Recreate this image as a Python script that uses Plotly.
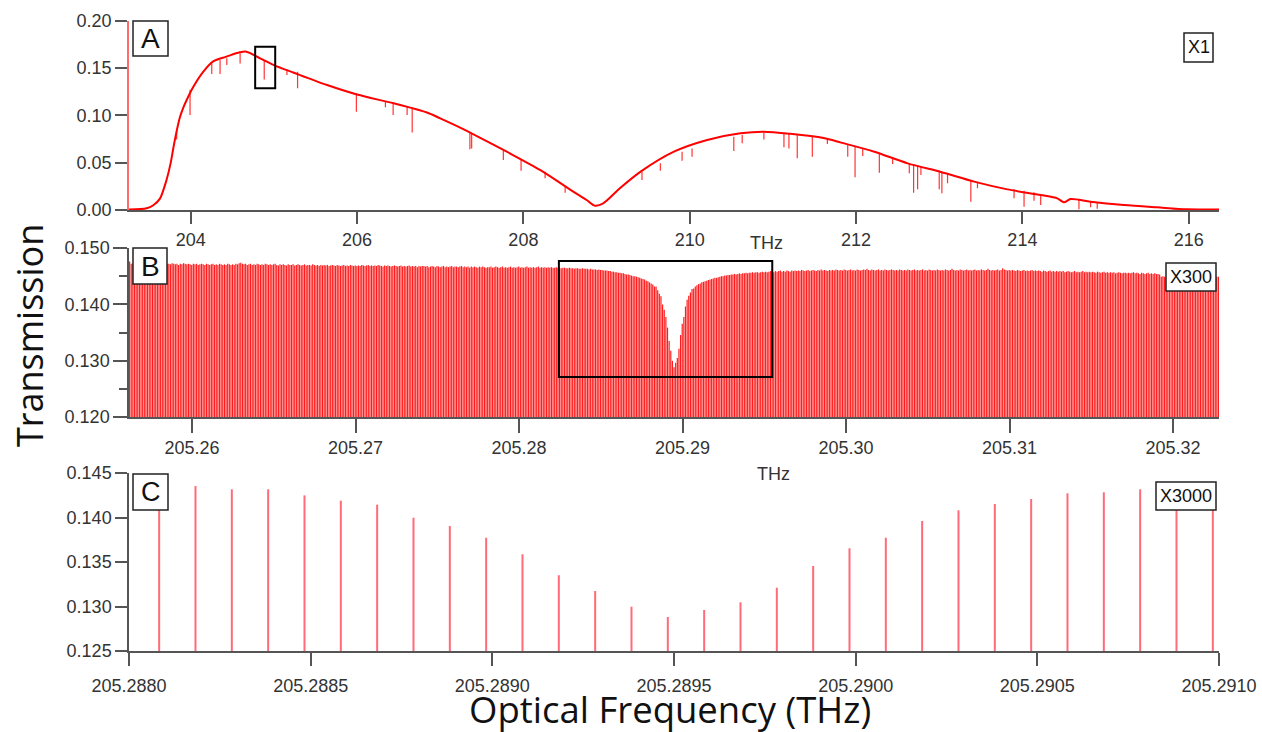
import plotly.graph_objects as go

# ---------------- Panel A: broadband transmission (THz, transmission) ----------------
A_env_f = [203.258, 203.47, 203.55, 203.63, 203.71, 203.76, 203.79, 203.83, 203.87, 203.91, 203.95,
           204.03, 204.15, 204.27, 204.43, 204.59, 204.67, 204.84, 205.00, 205.24, 205.64, 206.00,
           206.44, 206.84, 207.00, 207.24, 207.40, 207.80, 208.20, 208.60, 208.76, 208.86, 208.96,
           209.16, 209.41, 209.81, 210.21, 210.61, 210.89, 211.21, 211.61, 211.82, 212.22,
           212.62, 213.02, 213.42, 213.82, 214.22, 214.42, 214.50, 214.58, 214.82, 215.22,
           215.62, 215.98, 216.364]
A_env_v = [0.0005, 0.0018, 0.005, 0.012, 0.032, 0.050, 0.065, 0.083, 0.098, 0.108, 0.116,
           0.130, 0.146, 0.157, 0.162, 0.1666, 0.1673, 0.160, 0.153, 0.145, 0.132, 0.122,
           0.1127, 0.1030, 0.0968, 0.087, 0.080, 0.0616, 0.0423, 0.0194, 0.0106, 0.0046, 0.007,
           0.0229, 0.0405, 0.0616, 0.074, 0.081, 0.0827, 0.0805, 0.0760, 0.0712, 0.0616,
           0.0493, 0.0402, 0.030, 0.0218, 0.0158, 0.0123, 0.0081, 0.0116, 0.0088, 0.0053,
           0.0028, 0.0007, 0.0004]

A_line_f = [203.831, 203.992, 204.253, 204.353, 204.434, 204.594, 204.884, 205.157, 205.285, 205.992,
            206.341, 206.434, 206.602, 206.663, 207.357, 207.378, 207.759, 207.972, 208.261, 208.502,
            209.426, 209.647, 209.908, 210.028, 210.530, 210.631, 210.892, 211.133, 211.193, 211.293,
            211.474, 211.655, 211.900, 211.988, 212.080, 212.280, 212.440, 212.640, 212.692, 212.740,
            212.780, 213.000, 213.032, 213.100, 213.380, 213.460, 213.900, 214.020, 214.140, 214.220,
            214.680, 214.820, 214.900]
A_line_top = [0.0840, 0.1270, 0.1549, 0.1585, 0.1602, 0.1655, 0.1577, 0.1486, 0.1461, 0.1232,
              0.1144, 0.1134, 0.1099, 0.1085, 0.0817, 0.0810, 0.0627, 0.0535, 0.0405, 0.0246,
              0.0405, 0.0493, 0.0616, 0.0651, 0.0775, 0.0792, 0.0820, 0.0817, 0.0810, 0.0799,
              0.0775, 0.0757, 0.0697, 0.0669, 0.0644, 0.0599, 0.0556, 0.0493, 0.0486, 0.0475,
              0.0465, 0.0415, 0.0405, 0.0387, 0.0317, 0.0299, 0.0222, 0.0204, 0.0187, 0.0165,
              0.0106, 0.0092, 0.0085]
A_line_bot = [0.0745, 0.1004, 0.1437, 0.1437, 0.1532, 0.1549, 0.1380, 0.1426, 0.1285, 0.1039,
              0.1085, 0.1004, 0.1004, 0.0820, 0.0641, 0.0651, 0.0528, 0.0415, 0.0335, 0.0183,
              0.0317, 0.0415, 0.0521, 0.0563, 0.0623, 0.0704, 0.0746, 0.0662, 0.0651, 0.0546,
              0.0563, 0.0697, 0.0563, 0.0345, 0.0570, 0.0394, 0.0486, 0.0387, 0.0183, 0.0218,
              0.0370, 0.0218, 0.0176, 0.0282, 0.0088, 0.0229, 0.0123, 0.0035, 0.0099, 0.0053,
              0.0007, 0.0028, 0.0014]

# ---------------- Panel C: comb lines around the resonance ----------------
comb_step = 0.0001          # THz, line spacing
C_first_freq = 205.288083   # THz
C_vals = [0.1437, 0.14354, 0.14317, 0.14317, 0.14249, 0.14189, 0.14144, 0.13998, 0.13904, 0.13773,
          0.13587, 0.13351, 0.13174, 0.12998, 0.12882, 0.12961, 0.13047, 0.13211, 0.13455, 0.13654,
          0.13773, 0.13961, 0.14081, 0.14152, 0.14208, 0.14272, 0.14283, 0.14317, 0.1434, 0.1436]

# ---------------- Panel B: comb line peaks (units of 1e-4) ----------------
B_left_e4 = [
    1476,1472,1473,1472,1471,1473,1472,1473,1471,1472,1473,1472,1471,1472,1473,1471,1472,1472,1473,1471,
    1472,1473,1471,1472,1472,1471,1473,1472,1471,1472,1470,1472,1471,1473,1472,1471,1472,1471,1470,1472,
    1471,1472,1470,1471,1472,1471,1470,1472,1471,1470,1471,1472,1470,1471,1470,1472,1471,1470,1471,1470,
    1472,1471,1470,1471,1470,1472,1471,1473,1474,1472,1471,1472,1470,1471,1472,1470,1471,1470,1472,1471,
    1470,1471,1470,1472,1471,1470,1471,1470,1471,1472,1470,1469,1471,1470,1471,1470,1469,1471,1470,1470,
    1471,1469,1470,1471,1470,1469,1470,1471,1469,1470,1470,1469,1471,1470,1469,1470,1468,1470,1469,1470,
    1469,1470,1468,1469,1470,1469,1468,1470,1469,1468,1469,1470,1468,1469,1468,1470,1469,1468,1469,1468,
    1469,1468,1470,1469,1468,1469,1470,1468,1469,1468,1469,1468,1470,1469,1468,1467,1469,1468,1469,1468,
    1467,1468,1469,1468,1467,1468,1469,1467,1468,1467,1468,1469,1467,1468,1467,1468,1466,1468,1467,1468,
    1468,1467,1468,1466,1467,1468,1467,1466,1468,1467,1466,1467,1468,1466,1467,1466,1467,1468,1466,1467,
    1467,1466,1467,1468,1466,1467,1466,1467,1465,1467,1466,1467,1466,1465,1467,1466,1467,1466,1465,1466,
    1466,1467,1465,1466,1467,1466,1465,1466,1467,1465,1466,1465,1466,1467,1465,1466,1465,1466,1467,1465,
    1466,1465,1466,1467,1465,1466,1465,1466,1465,1466,1467,1465,1466,1465,1466,1465,1466,1465,1466,1465,
    1465,1466,1465,1465,1464,1465,1465,1464,1464,1465,1464,1464,1463,1464,1464,1463,1463,1464,1463,1463,
    1463,1462,1463,1462,1462,1462,1461,1462,1461,1461,1460,1460,1460,1459,1459,1458,1458,1457,1457,1456,
    1456,1455,1455,1454,1453,1453,1452,1451,1450,1450,1449,1448,1447,1446,1445,1444,1442,1441,1439]
B_right_e4 = [
    1437,1439,1440,1441,1442,1443,1444,1445,1446,1447,1447,1448,1449,1450,1450,1451,1451,1452,1452,1453,
    1453,1454,1453,1454,1455,1454,1455,1455,1456,1455,1456,1456,1457,1456,1457,1457,1456,1457,1458,1457,
    1458,1457,1458,1459,1458,1457,1459,1458,1459,1460,1458,1459,1458,1460,1459,1458,1460,1459,1460,1459,
    1460,1459,1461,1460,1459,1460,1461,1459,1460,1461,1460,1459,1461,1460,1462,1460,1461,1460,1459,1461,
    1460,1461,1460,1462,1461,1460,1461,1460,1462,1461,1460,1461,1462,1460,1461,1460,1462,1461,1460,1461,
    1462,1461,1463,1461,1460,1462,1461,1460,1461,1462,1460,1461,1460,1462,1461,1460,1461,1462,1461,1460,
    1461,1460,1462,1461,1460,1461,1460,1462,1461,1460,1461,1462,1460,1461,1460,1461,1462,1460,1461,1460,
    1462,1461,1460,1461,1460,1462,1461,1460,1461,1460,1462,1461,1460,1461,1463,1461,1460,1461,1460,1462,
    1461,1460,1461,1462,1460,1461,1460,1461,1462,1460,1461,1460,1462,1461,1460,1461,1463,1461,1460,1461,
    1460,1461,1462,1460,1461,1464,1462,1461,1460,1461,1460,1461,1460,1459,1461,1460,1459,1460,1461,1459,
    1460,1459,1460,1461,1459,1460,1459,1460,1459,1458,1460,1459,1458,1459,1460,1458,1459,1458,1459,1458,
    1459,1458,1459,1457,1458,1459,1458,1457,1458,1459,1457,1458,1457,1458,1459,1457,1458,1457,1458,1457,
    1458,1457,1456,1458,1457,1456,1457,1458,1456,1457,1456,1457,1456,1457,1455,1456,1457,1456,1455,1456,
    1456,1455,1456,1455,1456,1457,1455,1456,1455,1454,1456,1455,1454,1455,1456,1454,1455,1454,1455,1454,
    1454,1453,1449,1450,1449,1448,1449,1450,1449,1448,1449,1450,1449,1448,1449,1450,1449,1448,1449,1450,
    1449,1448,1449,1450,1449,1448,1449,1450,1449,1448,1449,1450,1449,1448,1449,1450,1449,1449]

B_vals = [v / 1e4 for v in B_left_e4] + C_vals + [v / 1e4 for v in B_right_e4]
n_left = len(B_left_e4)
B_freq = [C_first_freq + (i - n_left) * comb_step for i in range(len(B_vals))]
C_freq = [C_first_freq + i * comb_step for i in range(len(C_vals))]

A_range = [203.258, 216.364]
B_range = [205.256147, 205.322813]
C_range = [205.2880, 205.2910]
A_yrange = [0.0, 0.20]
B_yrange = [0.120, 0.150]
C_yrange = [0.125, 0.145]


def stems(xs, tops, bots):
    X, Y = [], []
    for x, t, b in zip(xs, tops, bots):
        X += [x, x, None]
        Y += [b, t, None]
    return X, Y


fig = go.Figure()
fig.add_trace(go.Scatter(x=A_env_f, y=A_env_v, mode="lines",
                         line=dict(color="#ff0000", width=2, shape="spline", smoothing=0.8),
                         xaxis="x", yaxis="y", hoverinfo="skip"))
sx, sy = stems(A_line_f, A_line_top, A_line_bot)
fig.add_trace(go.Scatter(x=sx, y=sy, mode="lines",
                         line=dict(color="rgba(255,0,0,0.8)", width=1.2), xaxis="x", yaxis="y",
                         hoverinfo="skip"))
bx, by = stems(B_freq, B_vals, [B_yrange[0]] * len(B_vals))
fig.add_trace(go.Scatter(x=bx, y=by, mode="lines",
                         line=dict(color="#ff1c1c", width=1.2), xaxis="x2", yaxis="y2",
                         hoverinfo="skip"))
cx, cy = stems(C_freq, C_vals, [C_yrange[0]] * len(C_vals))
fig.add_trace(go.Scatter(x=cx, y=cy, mode="lines",
                         line=dict(color="#ff6b78", width=2), xaxis="x3", yaxis="y3",
                         hoverinfo="skip"))

# ---------------- layout ----------------
L, R, T, B = 129, 43, 20, 81
W, H = 1262, 732
PH = H - T - B
PW = W - L - R


def py2p(py):
    return (H - B - py) / PH


def px2p(px):
    return (px - L) / PW


tickfont = dict(family="Liberation Sans, Arial, sans-serif", size=18, color="#333333")
axis_common = dict(showline=True, linecolor="#555555", linewidth=1.5, ticks="outside",
                   tickcolor="#555555", tickwidth=1.5, ticklen=12, showgrid=False,
                   zeroline=False, tickfont=tickfont, automargin=False)

fig.update_layout(
    template="none",
    width=W, height=H, autosize=False, margin=dict(l=L, r=R, t=T, b=B, pad=0),
    paper_bgcolor="white", plot_bgcolor="white", showlegend=False,
    xaxis=dict(domain=[0, 1], anchor="y", range=A_range, tickvals=[204, 206, 208, 210, 212, 214, 216],
               tickformat=".0f", ticklabelstandoff=1, **axis_common),
    yaxis=dict(domain=[py2p(210), py2p(20.7)], anchor="x", range=A_yrange, dtick=0.05,
               tickformat=".2f", **{**axis_common, "linecolor": "#ff6a6a"}),
    xaxis2=dict(domain=[0, 1], anchor="y2", range=B_range, dtick=0.01, tick0=205.26,
                tickformat=".2f", ticklabelstandoff=0, **{**axis_common, "ticklen": 14}),
    yaxis2=dict(domain=[py2p(417), py2p(248)], anchor="x2", range=B_yrange, dtick=0.01,
                tickformat=".3f", minor=dict(dtick=0.005, ticks="outside", ticklen=8,
                                             tickcolor="#555555", tickwidth=1.5),
                **{**axis_common, "ticklen": 14}),
    xaxis3=dict(domain=[0, 1], anchor="y3", range=C_range, dtick=0.0005, tick0=205.288,
                tickformat=".4f", ticklabelstandoff=5, **{**axis_common, "ticklen": 13}),
    yaxis3=dict(domain=[0, py2p(473)], anchor="x3", range=C_yrange, dtick=0.005,
                tickformat=".3f", **axis_common),
)

shapes = []
shapes.append(dict(type="rect", xref="x", yref="y", x0=204.775, x1=205.016, y0=0.1285, y1=0.1725,
                   line=dict(color="black", width=2), fillcolor="rgba(0,0,0,0)", layer="above"))
shapes.append(dict(type="rect", xref="x2", yref="y2", x0=205.28244, x1=205.29549, y0=0.12710, y1=0.14769,
                   line=dict(color="black", width=2), fillcolor="rgba(0,0,0,0)", layer="above"))

label_boxes = [
    ("A", 133, 168, 21, 56, 28),
    ("X1", 1184, 1213, 33, 62, 18),
    ("B", 133, 167, 248, 284, 28),
    ("X300", 1166, 1216, 263, 291, 18),
    ("C", 133, 168, 474, 510, 27),
    ("X3000", 1156, 1216, 482, 510, 18),
]
annotations = []
for text, x0, x1, y0, y1, fs in label_boxes:
    shapes.append(dict(type="rect", xref="paper", yref="paper",
                       x0=px2p(x0), x1=px2p(x1), y0=py2p(y1), y1=py2p(y0),
                       line=dict(color="#222222", width=1.5), fillcolor="white", layer="above"))
    annotations.append(dict(text=text, xref="paper", yref="paper", x=px2p((x0 + x1) / 2),
                            y=py2p((y0 + y1) / 2), xanchor="center", yanchor="middle",
                            showarrow=False,
                            font=dict(family="Liberation Sans, Arial, sans-serif", size=fs,
                                      color="#111111")))

for text, x, y in [("THz", 766, 243), ("THz", 773, 474)]:
    annotations.append(dict(text=text, xref="paper", yref="paper", x=px2p(x), y=py2p(y),
                            xanchor="center", yanchor="middle", showarrow=False, font=tickfont))

annotations.append(dict(text="Transmission", xref="paper", yref="paper", x=px2p(29), y=py2p(336),
                        xanchor="center", yanchor="middle", textangle=-90, showarrow=False,
                        font=dict(family="Open Sans, sans-serif", size=36, color="#111111")))
annotations.append(dict(text="Optical Frequency (THz)", xref="paper", yref="paper", x=px2p(670),
                        y=py2p(709), xanchor="center", yanchor="middle", showarrow=False,
                        font=dict(family="Open Sans, sans-serif", size=36.5, color="#111111")))

fig.update_layout(shapes=shapes, annotations=annotations)
fig.write_html(
    "out.html",
    config={"displayModeBar": False, "responsive": False},
    post_script=("document.documentElement.style.margin='0';document.body.style.margin='0';"
                 "document.body.style.overflow='hidden';"),
)
